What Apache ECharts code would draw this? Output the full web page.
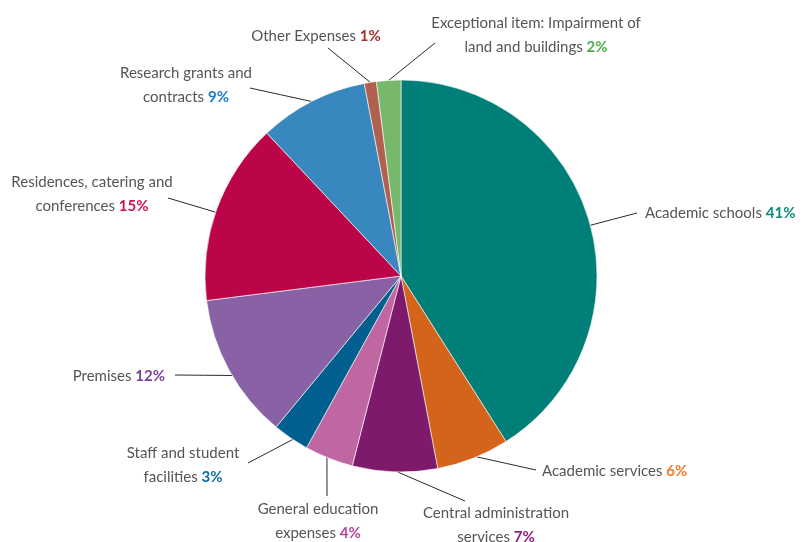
<!DOCTYPE html>
<html>
<head>
<meta charset="utf-8">
<script src="https://cdn.jsdelivr.net/npm/echarts@6/dist/echarts.min.js"></script>
<style>html,body{margin:0;padding:0;background:#fff}#c{width:803px;height:542px}</style>
</head>
<body>
<div id="c"></div>
<script>
// ---- data ----
var categories = ['Academic schools','Academic services','Central administration services','General education expenses','Staff and student facilities','Premises','Residences, catering and conferences','Research grants and contracts','Other Expenses','Exceptional item: Impairment of land and buildings'];
var values = [41, 6, 7, 4, 3, 12, 15, 9, 1, 2];
var labelText = ['Academic schools','Academic services','Central administration\nservices','General education\nexpenses','Staff and student\nfacilities','Premises','Residences, catering and\nconferences','Research grants and\ncontracts','Other Expenses','Exceptional item: Impairment of\nland and buildings'];

// ---- styles / layout ----
var sliceColors = ['#007f78','#d4631b','#7e1a6b','#c066a2','#005f8f','#8862a4','#bc0448','#3987bf','#b0604f','#78b86d'];
var pctColors = ['#0e8a82','#ee7a2a','#8a2080','#b5469a','#0b6c9c','#7a3f9a','#c8145a','#1f7bc0','#a3302c','#4eac4e'];
var pieCenter = [401, 276];
var pieRadius = 196;
// anchor angle on pie edge (deg clockwise from top), label line end, label position & alignment
var labelLayoutCfg = [
  {ang: 75,    end: [637, 213], pos: [645, 213], align: 'left',   va: 'middle'},
  {ang: 157.3, end: [536, 470], pos: [542, 471], align: 'left',   va: 'middle'},
  {ang: 181,   end: [465, 501], pos: [496, 501], align: 'center', va: 'top'},
  {ang: 202.2, end: [327, 496], pos: [318, 497], align: 'center', va: 'top'},
  {ang: 213.5, end: [248, 463], pos: [183, 465.5], align: 'center', va: 'middle'},
  {ang: 239.5, end: [175, 375], pos: [165, 376], align: 'right',  va: 'middle'},
  {ang: 289,   end: [168, 198], pos: [92, 194.5], align: 'center', va: 'middle'},
  {ang: 332.9, end: [250, 88],  pos: [186, 85],  align: 'center', va: 'middle'},
  {ang: 351,   end: [328, 48],  pos: [316, 36],  align: 'center', va: 'middle'},
  {ang: 356.4, end: [435, 43],  pos: [536, 35],  align: 'center', va: 'middle'}
];

var data = categories.map(function (name, i) {
  return {
    name: name,
    value: values[i],
    itemStyle: {color: sliceColors[i]},
    label: {rich: {p: {color: pctColors[i], fontFamily: 'Lato', fontSize: 15, fontWeight: 'bold', lineHeight: 24}}}
  };
});

var chart = echarts.init(document.getElementById('c'), null, {renderer: 'canvas'});
chart.setOption({
  animation: false,
  backgroundColor: '#fff',
  series: [{
    type: 'pie',
    center: pieCenter,
    radius: pieRadius,
    startAngle: 90,
    clockwise: true,
    data: data,
    itemStyle: {borderColor: '#ffffff', borderWidth: 0.6},
    emphasis: {disabled: true},
    label: {
      show: true,
      position: 'outside',
      formatter: function (p) {
        var lines = labelText[p.dataIndex].split('\n');
        var out = lines.map(function (l) { return '{n|' + l + '}'; });
        out[out.length - 1] += '{n| }{p|' + values[p.dataIndex] + '%}';
        return out.join('\n');
      },
      rich: {
        n: {color: '#555555', fontFamily: 'Lato', fontSize: 15, lineHeight: 24}
      }
    },
    labelLine: {show: true, lineStyle: {color: '#2a2a2a', width: 1}},
    labelLayout: function (params) {
      var c = labelLayoutCfg[params.dataIndex];
      var a = c.ang * Math.PI / 180;
      var sx = pieCenter[0] + pieRadius * Math.sin(a);
      var sy = pieCenter[1] - pieRadius * Math.cos(a);
      return {
        x: c.pos[0], y: c.pos[1],
        align: c.align, verticalAlign: c.va,
        labelLinePoints: [[sx, sy], [(sx + c.end[0]) / 2, (sy + c.end[1]) / 2], c.end]
      };
    }
  }]
});
</script>
</body>
</html>
